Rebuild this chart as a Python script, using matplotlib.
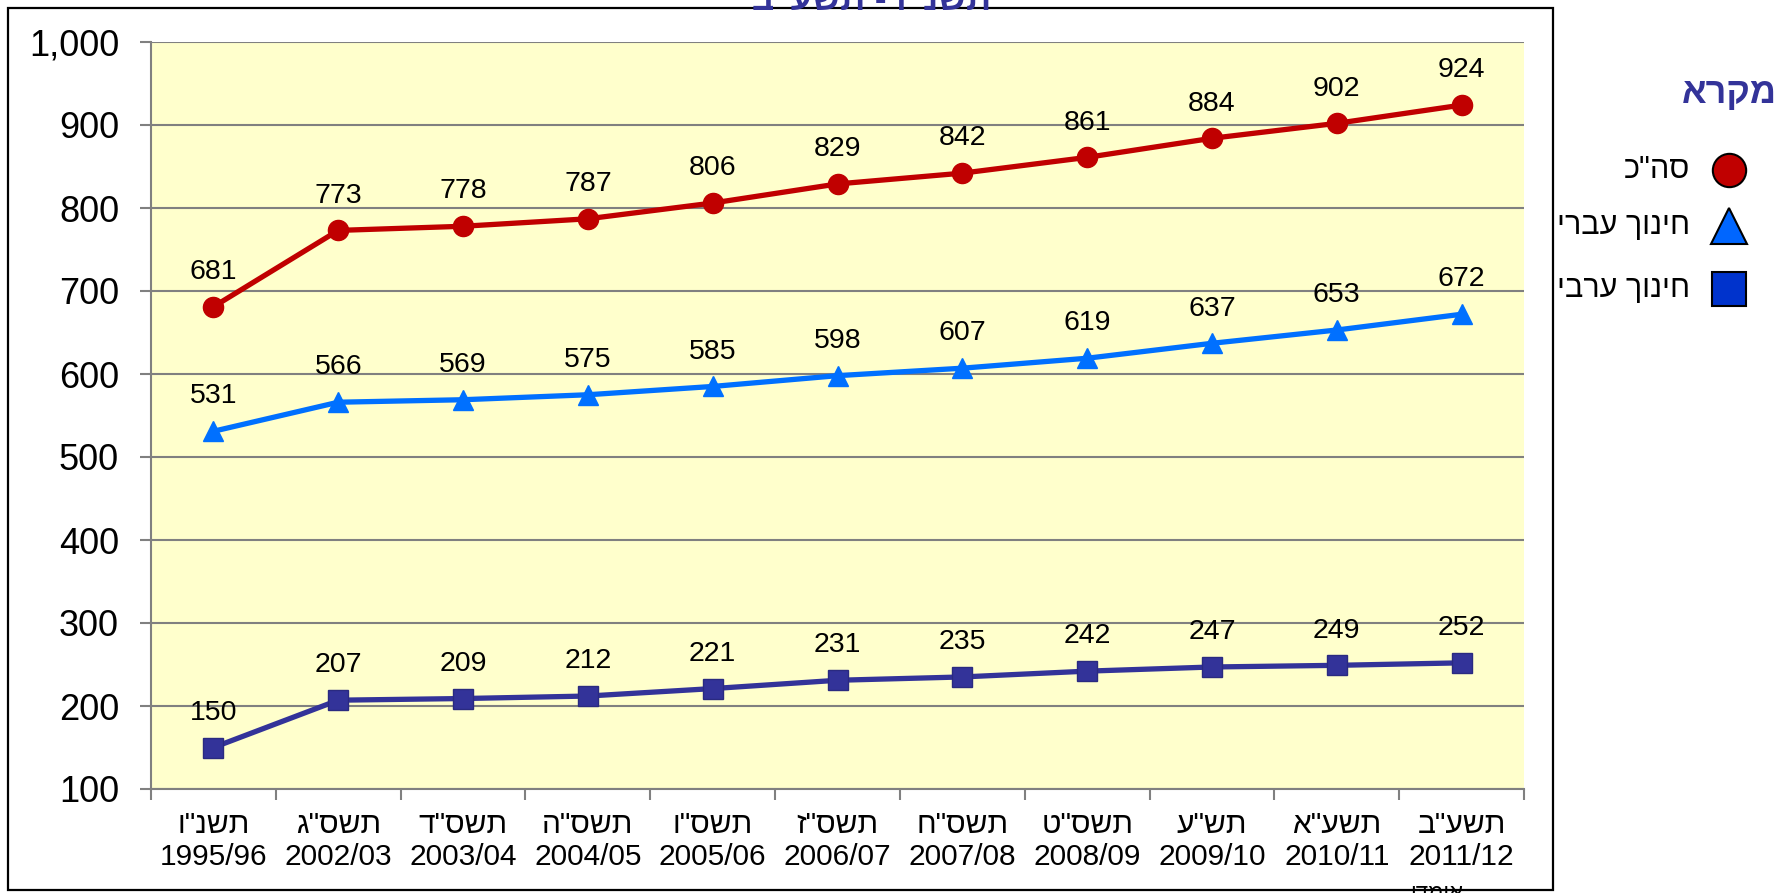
import matplotlib.pyplot as plt
import numpy as np
from matplotlib.lines import Line2D
from matplotlib.patches import Rectangle
from matplotlib.ticker import FuncFormatter

plt.rcParams['font.family'] = ['Liberation Sans', 'DejaVu Sans']


def heb(s):
    # matplotlib has no bidi, so Hebrew is flipped to read right to left
    return s[::-1]


# --- data ---
years_heb = ['תשנ"ו', 'תשס"ג', 'תשס"ד', 'תשס"ה', 'תשס"ו', 'תשס"ז',
             'תשס"ח', 'תשס"ט', 'תש"ע', 'תשע"א', 'תשע"ב']
years = ['1995/96', '2002/03', '2003/04', '2004/05', '2005/06', '2006/07',
         '2007/08', '2008/09', '2009/10', '2010/11', '2011/12']
total = [681, 773, 778, 787, 806, 829, 842, 861, 884, 902, 924]
hebrew_edu = [531, 566, 569, 575, 585, 598, 607, 619, 637, 653, 672]
arab_edu = [150, 207, 209, 212, 221, 231, 235, 242, 247, 249, 252]

series_names = ['סה"כ', 'חינוך עברי', 'חינוך ערבי']
title_txt = 'תשנ"ו - תשע"ב'
legend_title = 'מקרא'
estimate_note = 'אומדן'

W, H = 1776, 893
fig = plt.figure(figsize=(W / 100, H / 100), dpi=100)


def fx(px):
    return px / W


def fy(py):
    return 1 - py / H


ax = fig.add_axes([fx(151), fy(789), fx(1524) - fx(151), fy(42) - fy(789)])
ax.set_facecolor('#FFFFCC')

x = np.arange(len(years))
styles = [
    (total, '#C00000', 'o', 14.5, '#C00000'),
    (hebrew_edu, '#0070FF', '^', 15, '#0070FF'),
    (arab_edu, '#333399', 's', 15, '#2A2A80'),
]
for vals, col, mk, ms, ec in styles:
    ax.plot(x, vals, color=col, lw=3.8, marker=mk, ms=ms,
            mfc=col, mec=ec, mew=1, zorder=3)
    for xi, v in zip(x, vals):
        ax.annotate(str(v), (xi, v), xytext=(0, 20), textcoords='offset points',
                    ha='center', va='baseline', fontsize=20.5, zorder=4)

# axes
ax.set_ylim(100, 1000)
ax.set_yticks(range(100, 1001, 100))
ax.yaxis.set_major_formatter(FuncFormatter(lambda v, p: f'{int(v):,}'))
ax.set_xlim(-0.5, len(years) - 0.5)
ax.set_xticks(x)
ax.set_xticklabels([heb(h) + '\n' + y for h, y in zip(years_heb, years)],
                   fontsize=21.5, linespacing=1.18)
ax.set_xticks(np.arange(-0.5, len(years), 1), minor=True)
ax.tick_params(axis='x', which='major', length=0, pad=16)
ax.tick_params(axis='x', which='minor', length=8, width=1.5, color='#808080')
ax.tick_params(axis='y', length=8, width=1.5, color='#808080', labelsize=26, pad=15)
ax.grid(axis='y', color='#808080', lw=1.5, zorder=1)
ax.set_axisbelow(True)
for s in ['top', 'right']:
    ax.spines[s].set_visible(False)
for s in ['left', 'bottom']:
    ax.spines[s].set_color('#808080')
    ax.spines[s].set_linewidth(1.5)

# third line under the last category
ax.annotate(heb(estimate_note), (len(years) - 1, 0), xycoords=('data', 'axes fraction'),
            xytext=(-18, -68), textcoords='offset points', ha='center', va='top',
            fontsize=16, annotation_clip=False)

# chart frame and the cut-off title
fig.add_artist(Rectangle((fx(8), fy(890)), fx(1553) - fx(8), fy(8) - fy(890),
                         transform=fig.transFigure, fill=False, ec='black', lw=1.6,
                         zorder=5))
fig.text(fx(872), fy(10), heb(title_txt), ha='center', va='baseline',
         fontsize=25, weight='bold', color='#333399', zorder=6)

# legend, drawn to the right of the frame
fig.text(fx(1682), fy(103), heb(legend_title), ha='left', va='baseline',
         fontsize=26, weight='bold', color='#333399')
leg_marks = [('o', '#C00000', 24), ('^', '#0066FF', 26), ('s', '#0033CC', 25)]
leg_y = [170, 226, 289]
for name, (mk, col, ms), yy in zip(series_names, leg_marks, leg_y):
    fig.add_artist(Line2D([fx(1729)], [fy(yy)], transform=fig.transFigure,
                          marker=mk, ms=ms, mfc=col, mec='black', mew=1.5, ls='none'))
    fig.text(fx(1690), fy(yy), heb(name), ha='right', va='center', fontsize=22)

fig.savefig('out.png', dpi=100)
